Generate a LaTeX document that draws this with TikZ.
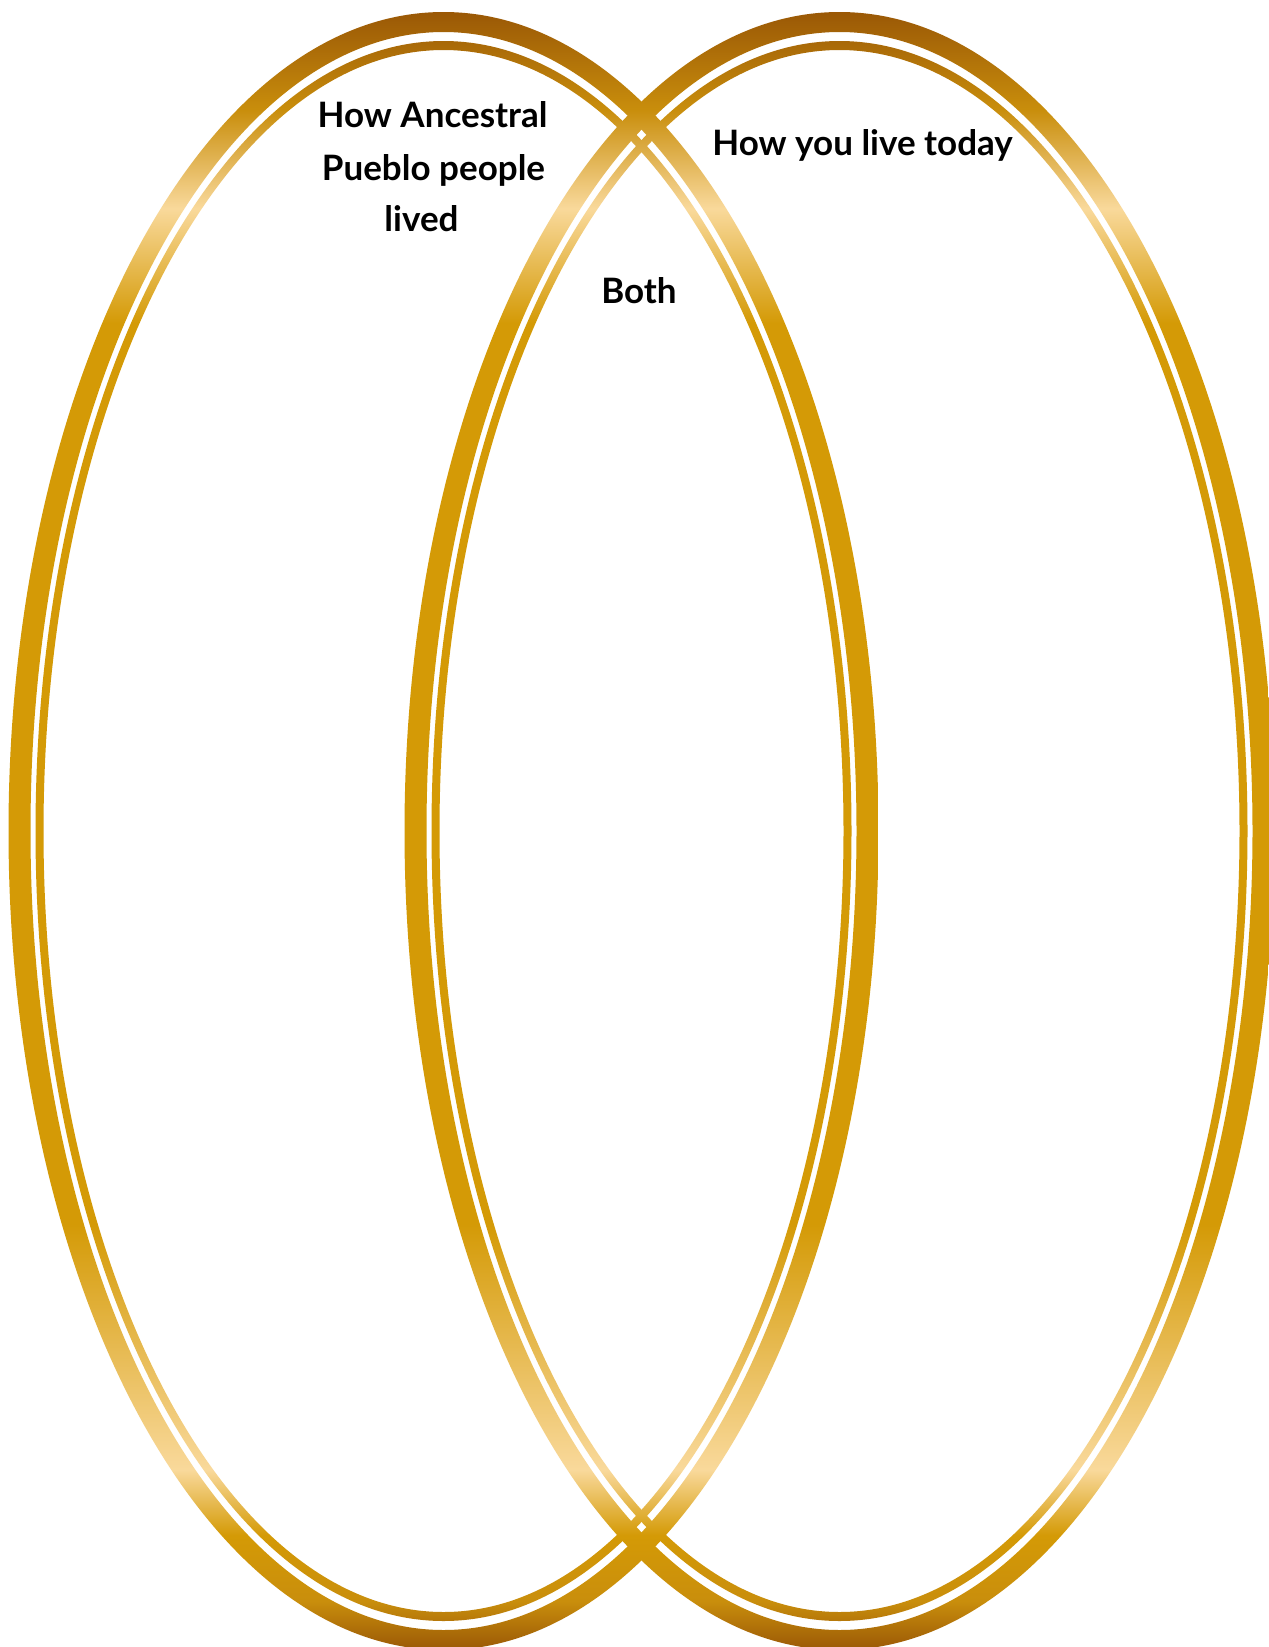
\documentclass[tikz,border=0pt]{standalone}
\usepackage{fontspec}
\setmainfont{Lato}
\definecolor{gbrown}{HTML}{9A5806}
\definecolor{ggold}{HTML}{D49A06}
\definecolor{gpale}{HTML}{F9D99B}
\definecolor{gmid}{HTML}{C98E0C}
\pgfdeclareverticalshading{goldring}{100bp}{color(0bp)=(gbrown); color(25bp)=(gbrown); color(26.5bp)=(gmid); color(28.5bp)=(ggold); color(30.5bp)=(gpale); color(38bp)=(ggold); color(65.5bp)=(ggold); color(69bp)=(gpale); color(72bp)=(gmid); color(75bp)=(gbrown); color(100bp)=(gbrown)}
\tikzset{
  ring/.style={shading=goldring, even odd rule},
  lab/.style={font=\fontsize{35}{42}\selectfont\bfseries, inner sep=0pt, anchor=base, text=black}
}
\begin{document}
\begin{tikzpicture}[x=1pt,y=-1pt]
\useasboundingbox (0,0) rectangle (1269,1647);
\fill[white] (0,0) rectangle (1269,1647);
\begin{scope}
\clip (0,0) rectangle (1269,1647);
\coordinate (cl) at (443.5,831);
\coordinate (cr) at (839.5,831);
\shade[ring] (cl) ellipse [x radius=435pt, y radius=819pt]
  (cl) ellipse [x radius=413pt, y radius=799pt]
  (cl) ellipse [x radius=408pt, y radius=790pt]
  (cl) ellipse [x radius=400pt, y radius=781pt];
\shade[ring] (cr) ellipse [x radius=435pt, y radius=819pt]
  (cr) ellipse [x radius=413pt, y radius=799pt]
  (cr) ellipse [x radius=408pt, y radius=790pt]
  (cr) ellipse [x radius=400pt, y radius=781pt];
\end{scope}
\node[lab] (t1a) at (432.5,127) {How Ancestral};
\node[lab] (t1b) at (433.5,180) {Pueblo people};
\node[lab] (t1c) at (421.5,231) {lived};
\node[lab] (t2) at (862.5,155) {How you live today};
\node[lab] (t3) at (639,303) {Both};
\end{tikzpicture}
\end{document}
